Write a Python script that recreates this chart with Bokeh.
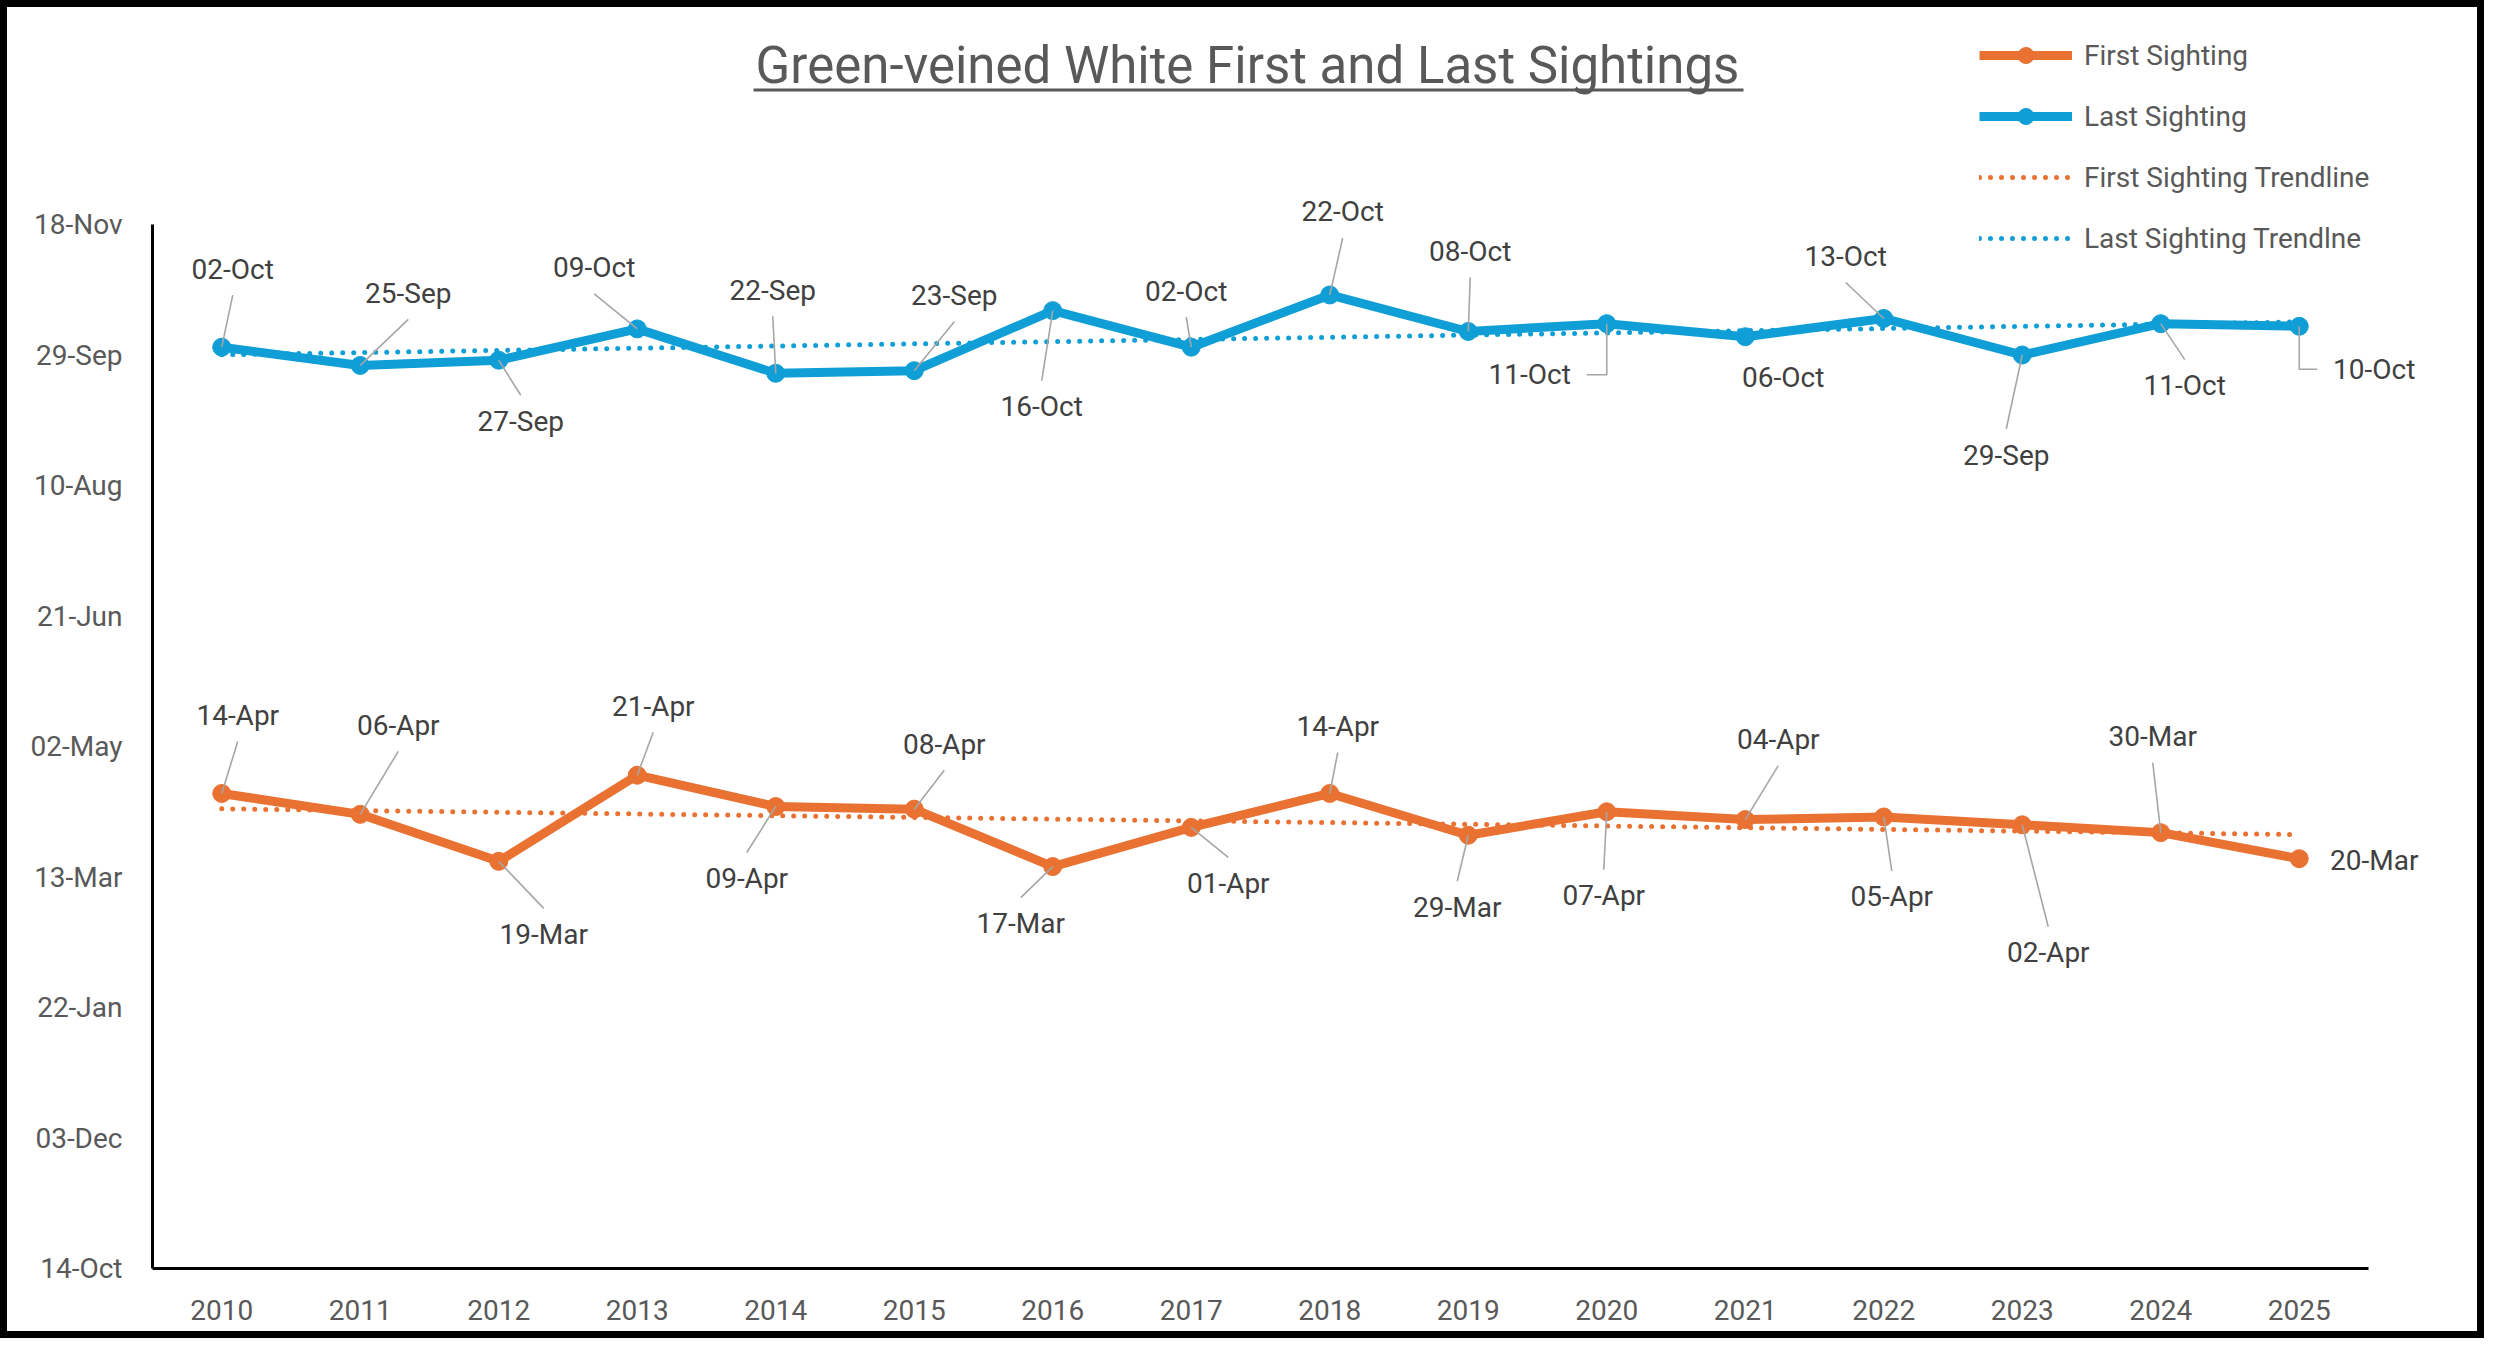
from datetime import date, datetime
import numpy as np
from bokeh.plotting import figure
from bokeh.models import (ColumnDataSource, LabelSet, Label, Legend, LegendItem,
                          FixedTicker, Range1d, BoxAnnotation)
from bokeh.core.properties import value
from bokeh.embed import file_html
from bokeh.resources import INLINE

# ---------------- data ----------------
years = list(range(2010, 2026))
first_sighting = ["14-Apr", "06-Apr", "19-Mar", "21-Apr", "09-Apr", "08-Apr", "17-Mar", "01-Apr",
                  "14-Apr", "29-Mar", "07-Apr", "04-Apr", "05-Apr", "02-Apr", "30-Mar", "20-Mar"]
last_sighting = ["02-Oct", "25-Sep", "27-Sep", "09-Oct", "22-Sep", "23-Sep", "16-Oct", "02-Oct",
                 "22-Oct", "08-Oct", "11-Oct", "06-Oct", "13-Oct", "29-Sep", "11-Oct", "10-Oct"]
y_tick_labels = ["14-Oct", "03-Dec", "22-Jan", "13-Mar", "02-May", "21-Jun", "10-Aug", "29-Sep", "18-Nov"]
y_tick_years = [2022, 2022, 2023, 2023, 2023, 2023, 2023, 2023, 2023]
x_tick_labels = [str(y) for y in years]

# ---------------- label placement (style: screen px offsets) ----------------
last_off_x = [11, 48, 22, -43, -3, 40, -11, -5, 13, 2, -77, 38, -38, -16, 24, 75]
last_off_y = [-78, -72, 61, -61, -83, -75, 96, -56, -83, -80, 51, 41, -62, 100, 62, 43]
last_leader = ["v", "v", "v", "v", "v", "v", "v", "v", "v", "v", "elbow", "none", "v", "v", "v", "elbow"]
first_off_x = [16, 38, 45, 16, -29, 30, -32, 37, 8, -11, -3, 33, 8, 26, -8, 75]
first_off_y = [-78, -89, 73, -69, 72, -65, 57, 56, -67, 72, 84, -80, 80, 128, -96, 2]
first_leader = ["v"] * 15 + ["none"]

BASE = date(2023, 1, 1)


def to_day(lab, yr=2023):
    return (datetime.strptime(f"{lab}-{yr}", "%d-%b-%Y").date() - BASE).days


first_days = [to_day(s) for s in first_sighting]
last_days = [to_day(s) for s in last_sighting]
y_ticks = [to_day(l, y) for l, y in zip(y_tick_labels, y_tick_years)]

# ---------------- layout ----------------
W, H = 2484, 1338
AXL, AXB = 145, 1261          # axis corner in canvas px
AXR, AXT = 2361, 217          # axis ends in canvas px
PAD = 3
FL, FB = AXL - PAD, AXB + PAD  # frame left / bottom
x0, x1 = years[0] - 0.5, years[-1] + 0.5
y0, y1 = y_ticks[0], y_ticks[-1]
PX = (AXR - AXL) / (x1 - x0)
PY = (AXB - AXT) / (y1 - y0)
xs0 = x0 - PAD / PX
xs1 = xs0 + (W - FL) / PX
ys0 = y0 - PAD / PY
ys1 = ys0 + FB / PY

ORANGE = "#E97132"
BLUE = "#0F9ED5"
FONT = "Roboto"
TXT = "#404040"
AX = "#595959"

p = figure(width=W, height=H, output_backend="svg", toolbar_location=None,
           x_range=Range1d(xs0, xs1), y_range=Range1d(ys0, ys1),
           min_border_left=FL, min_border_right=0, min_border_top=0, min_border_bottom=H - FB)
p.styles = {"border": "7px solid black"}
p.outline_line_color = None
p.grid.visible = False
p.background_fill_color = "white"
p.border_fill_color = "white"

for ax in (p.xaxis[0], p.yaxis[0]):
    ax.axis_line_color = None
    ax.major_tick_line_color = None
    ax.minor_tick_line_color = None
    ax.major_label_text_font = FONT
    ax.major_label_text_font_size = "28px"
    ax.major_label_text_color = AX

p.xaxis.ticker = FixedTicker(ticks=years)
p.xaxis.major_label_overrides = {y: s for y, s in zip(years, x_tick_labels)}
p.xaxis.major_label_standoff = 22
p.yaxis.ticker = FixedTicker(ticks=y_ticks)
p.yaxis.major_label_overrides = {t: s for t, s in zip(y_ticks, y_tick_labels)}
p.yaxis.major_label_standoff = 21

# axis lines
p.line([x0, x1], [y0, y0], line_color="black", line_width=3)
p.line([x0, x0], [y0, y1], line_color="black", line_width=3)

# trendlines
yrs = np.array(years, dtype=float)
fa, fb = np.polyfit(yrs, np.array(first_days, dtype=float), 1)
la, lb = np.polyfit(yrs, np.array(last_days, dtype=float), 1)
ends = [years[0], years[-1]]
tr_first = p.line(ends, [fa * e + fb for e in ends], line_color=ORANGE, line_width=5,
                  line_dash="0 11", line_cap="round")
tr_last = p.line(ends, [la * e + lb for e in ends], line_color=BLUE, line_width=5,
                 line_dash="0 11", line_cap="round")

# series
src = ColumnDataSource(dict(year=years, first=first_days, last=last_days))
l_first = p.line("year", "first", source=src, line_color=ORANGE, line_width=9, line_join="round")
m_first = p.scatter("year", "first", source=src, size=18, fill_color=ORANGE, line_color=ORANGE)
l_last = p.line("year", "last", source=src, line_color=BLUE, line_width=9, line_join="round")
m_last = p.scatter("year", "last", source=src, size=18, fill_color=BLUE, line_color=BLUE)

# labels + leader lines
HH = 26   # half label height + gap (px)
HW = 57   # half label width + gap (px)


def build(days, offx, offy, kinds):
    lx, ly, xs, ys = [], [], [], []
    for yr, d, ox, oy, k in zip(years, days, offx, offy, kinds):
        cx = yr + ox / PX
        cy = d - oy / PY
        lx.append(cx)
        ly.append(cy)
        if k == "v":
            ey = oy - HH if oy > 0 else oy + HH
            xs.append([yr, cx])
            ys.append([d, d - ey / PY])
        elif k == "elbow":
            ex = ox - HW if ox > 0 else ox + HW
            xs.append([yr, yr, yr + ex / PX])
            ys.append([d, cy, cy])
    return lx, ly, xs, ys


label_sets = []
for days, labels, ox, oy, kinds in ((last_days, last_sighting, last_off_x, last_off_y, last_leader),
                                    (first_days, first_sighting, first_off_x, first_off_y, first_leader)):
    lx, ly, xs, ys = build(days, ox, oy, kinds)
    p.multi_line(xs, ys, line_color="#A6A6A6", line_width=1.6)
    label_sets.append((lx, ly, labels))

for lx, ly, labels in label_sets:
    ls = ColumnDataSource(dict(x=lx, y=ly, t=labels))
    p.add_layout(LabelSet(x="x", y="y", text="t", source=ls, text_align="center",
                          text_baseline="middle", text_font=value(FONT),
                          text_font_size="28px", text_color=TXT))

# title (screen units are relative to the frame's bottom-left corner)
title_text = "Green-veined White First and Last Sightings"
p.add_layout(Label(x=1240 - FL, y=FB - 58, x_units="screen", y_units="screen", text=title_text,
                   text_align="center", text_baseline="middle", text_font=FONT,
                   text_font_size="51px", text_color=AX))
p.add_layout(BoxAnnotation(left=746 - FL, right=1736 - FL, bottom=FB - 84, top=FB - 81,
                           left_units="screen", right_units="screen",
                           bottom_units="screen", top_units="screen",
                           fill_color=AX, fill_alpha=1, line_color=None))

# legend
legend = Legend(items=[
    LegendItem(label="First Sighting", renderers=[l_first, m_first]),
    LegendItem(label="Last Sighting", renderers=[l_last, m_last]),
    LegendItem(label="First Sighting Trendline", renderers=[tr_first]),
    LegendItem(label="Last Sighting Trendlne", renderers=[tr_last]),
], location=(1972 - FL, FB - 251), orientation="vertical", glyph_width=93, glyph_height=40,
    label_height=40, spacing=21, padding=0, margin=0, label_standoff=12,
    label_text_font=FONT, label_text_font_size="28px", label_text_color=AX,
    border_line_color=None, background_fill_alpha=0)
p.add_layout(legend, "center")

open("out.html", "w").write(file_html(p, INLINE))
